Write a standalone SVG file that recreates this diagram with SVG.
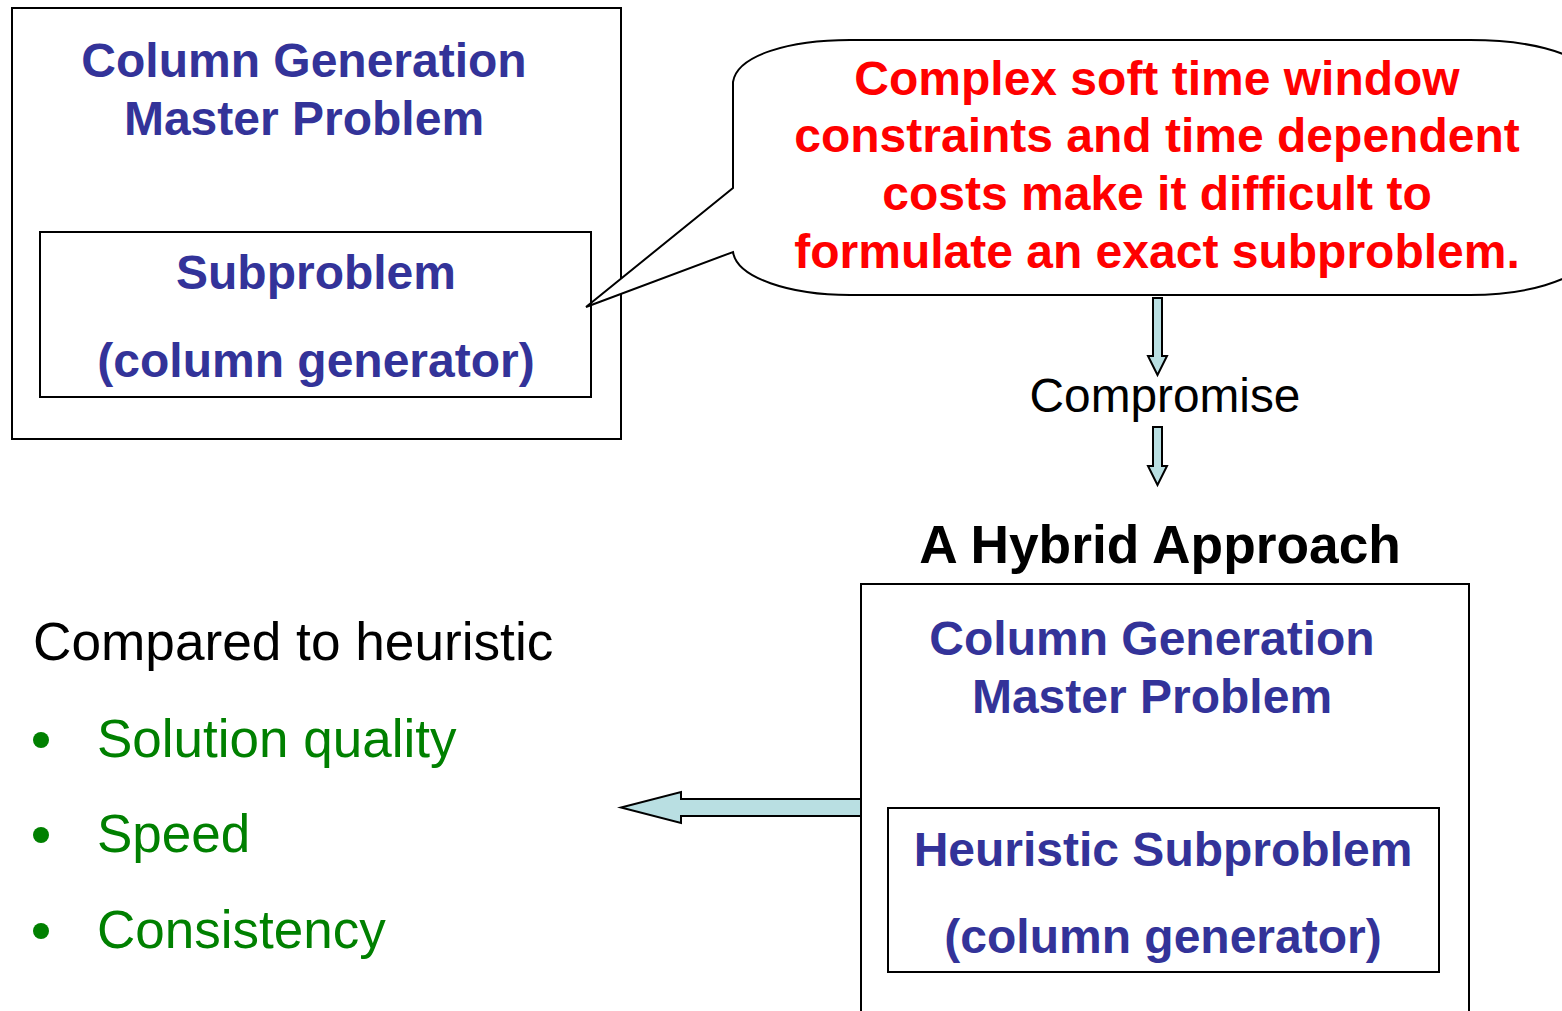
<svg xmlns="http://www.w3.org/2000/svg" width="1562" height="1011" viewBox="0 0 1562 1011">
  <style>
    .box { fill: #ffffff; stroke: #000000; stroke-width: 2; }
    .t { font-family: "Liberation Sans", Arial, sans-serif; text-anchor: middle; }
    .blue { fill: #333399; font-weight: bold; font-size: 48px; }
    .red { fill: #ff0000; font-weight: bold; font-size: 48px; }
    .plain { fill: #000000; font-size: 47.8px; }
    .green { fill: #008000; font-size: 53px; font-family: "Liberation Sans", Arial, sans-serif; }
    .blockarrow { fill: #b9dfe2; stroke: #000000; stroke-width: 2; stroke-linejoin: miter; }
  </style>
  <rect width="1562" height="1011" fill="#ffffff"/>

  <!-- Original scheme: master problem with exact subproblem -->
  <g id="master-original">
    <rect class="box" x="12" y="8" width="609" height="431"/>
    <text class="t blue" x="304" y="77">Column Generation</text>
    <text class="t blue" x="304" y="135">Master Problem</text>
  </g>
  <g id="subproblem-original">
    <rect class="box" x="40" y="232" width="551" height="165"/>
    <text class="t blue" x="316" y="289">Subproblem</text>
    <text class="t blue" x="316" y="377">(column generator)</text>
  </g>

  <!-- Callout pointing at the subproblem -->
  <g id="callout">
    <path class="box" d="M733,188 L586,307 L733,252 C737,278 790,295 850,295 L1470,295 C1530,295 1570,280 1590,262 L1590,70 C1570,52 1530,40 1470,40 L850,40 C790,40 737,55 733,82 Z"/>
    <text class="t red" x="1157" y="95">Complex soft time window</text>
    <text class="t red" x="1157" y="152">constraints and time dependent</text>
    <text class="t red" x="1157" y="210">costs make it difficult to</text>
    <text class="t red" x="1157" y="268">formulate an exact subproblem.</text>
  </g>

  <g id="compromise-label">
    <text class="t plain" x="1165" y="412">Compromise</text>
  </g>

  <g id="hybrid-title">
    <text class="t" x="1160" y="563" font-size="53.3" font-weight="bold" fill="#000000">A Hybrid Approach</text>
  </g>

  <!-- Hybrid scheme: master problem with heuristic subproblem -->
  <g id="master-hybrid">
    <rect class="box" x="861" y="584" width="608" height="440"/>
    <text class="t blue" x="1152" y="655">Column Generation</text>
    <text class="t blue" x="1152" y="713">Master Problem</text>
  </g>
  <g id="subproblem-hybrid">
    <rect class="box" x="888" y="808" width="551" height="164"/>
    <text class="t blue" x="1163" y="866">Heuristic Subproblem</text>
    <text class="t blue" x="1163" y="953">(column generator)</text>
  </g>

  <!-- Comparison list -->
  <g id="comparison">
    <text x="33" y="660" font-family="&quot;Liberation Sans&quot;, Arial, sans-serif" font-size="53.2" fill="#000000">Compared to heuristic</text>
    <circle cx="41" cy="740" r="8" fill="#008000"/>
    <text class="green" x="97" y="757">Solution quality</text>
    <circle cx="41" cy="835" r="8" fill="#008000"/>
    <text class="green" x="97" y="852">Speed</text>
    <circle cx="41" cy="931" r="8" fill="#008000"/>
    <text class="green" x="97" y="948">Consistency</text>
  </g>

  <!-- Connectors -->
  <g id="connectors">
    <path class="blockarrow" d="M1153,298 L1162,298 L1162,356 L1167,356 L1157.5,375 L1148,356 L1153,356 Z"/>
    <path class="blockarrow" d="M1153,427 L1162,427 L1162,466 L1167,466 L1157.5,485 L1148,466 L1153,466 Z"/>
    <path class="blockarrow" d="M861,799 L681,799 L681,792 L621,807.5 L681,823 L681,816 L861,816 Z"/>
  </g>
</svg>
